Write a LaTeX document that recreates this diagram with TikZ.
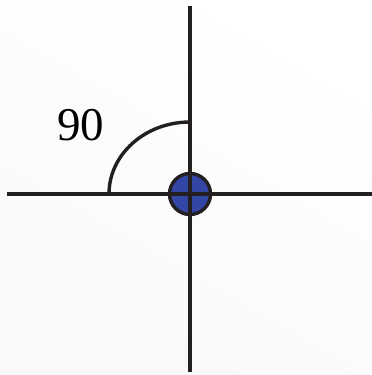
\documentclass[tikz,border=0pt]{standalone}
\usepackage{fontspec}
\setmainfont{Liberation Serif}
\definecolor{ink}{HTML}{231F20}
\definecolor{dotblue}{HTML}{3346A6}
\begin{document}
\begin{tikzpicture}[x=1pt,y=1pt,
  axis/.style={draw=ink,line width=3.4pt},
  anglearc/.style={draw=ink,line width=3.4pt},
  dot/.style={circle,draw=ink,line width=3.4pt,fill=dotblue,minimum size=41pt,inner sep=0pt},
  lbl/.style={font=\fontsize{47}{47}\selectfont,text=black,inner sep=0pt}]
\useasboundingbox[top color=white,bottom color=gray!5,shading angle=-30] (0,0) rectangle (372,375);
\node[dot] (o) at (190,181) {};
\coordinate (top) at (190,369);
\coordinate (bot) at (190,3);
\coordinate (left) at (7,181);
\coordinate (right) at (372,181);
\coordinate (arcstart) at (109,181);
\draw[anglearc] (arcstart) arc[start angle=180,end angle=90,x radius=81,y radius=72];
\draw[axis] (top) -- (bot);
\draw[axis] (left) -- (right);
\node[lbl] (t) at (80.5,250) {90};
\end{tikzpicture}
\end{document}
